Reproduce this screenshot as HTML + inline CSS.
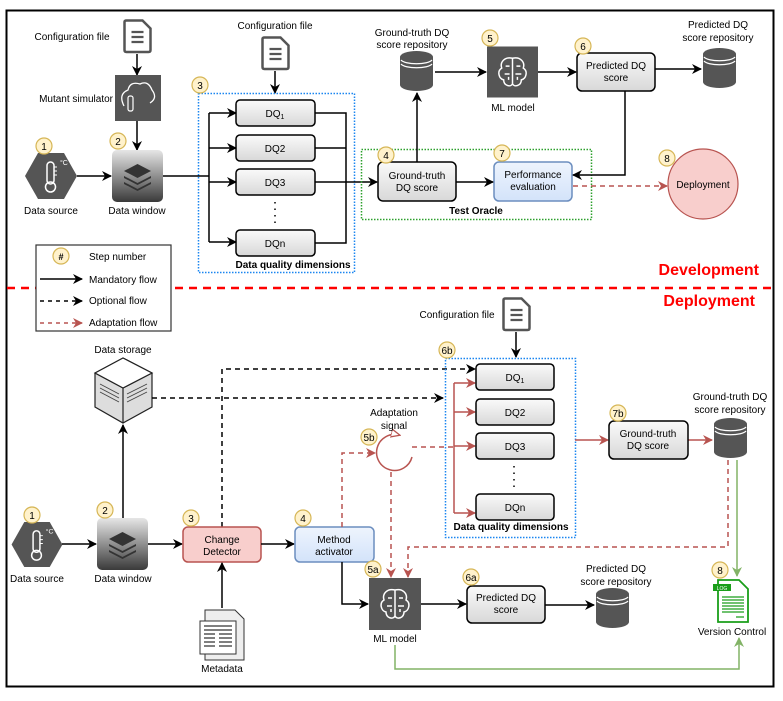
<!DOCTYPE html>
<html><head><meta charset="utf-8"><style>
html,body{margin:0;padding:0;background:#fff;}
svg{display:block;font-family:"Liberation Sans",Arial,sans-serif;}
</style></head><body>
<svg width="783" height="701" viewBox="0 0 783 701" xmlns="http://www.w3.org/2000/svg">
<defs>
<marker id="ab" markerWidth="10" markerHeight="10" refX="9" refY="5" orient="auto" markerUnits="userSpaceOnUse"><path d="M0,0 L10,5 L0,10 L3,5 Z" fill="#000"/></marker>
<marker id="ar" markerWidth="10" markerHeight="10" refX="9" refY="5" orient="auto" markerUnits="userSpaceOnUse"><path d="M0,0 L10,5 L0,10 L3,5 Z" fill="#b85450"/></marker>
<marker id="ag" markerWidth="10" markerHeight="10" refX="9" refY="5" orient="auto" markerUnits="userSpaceOnUse"><path d="M0,0 L10,5 L0,10 L3,5 Z" fill="#82b366"/></marker>
<marker id="ao" markerWidth="10" markerHeight="10" refX="8" refY="5" orient="auto" markerUnits="userSpaceOnUse"><path d="M0,1 L9,5 L0,9 Z" fill="#fff" stroke="#b85450" stroke-width="1.3"/></marker>
<linearGradient id="gw" x1="0" y1="0" x2="0" y2="1"><stop offset="0" stop-color="#e6e6e6"/><stop offset="1" stop-color="#3a3a3a"/></linearGradient>
<linearGradient id="gb" x1="0" y1="0" x2="0" y2="1"><stop offset="0" stop-color="#fafafa"/><stop offset="1" stop-color="#d8d8d8"/></linearGradient>
<linearGradient id="gblue" x1="0" y1="0" x2="0" y2="1"><stop offset="0" stop-color="#eef4fd"/><stop offset="1" stop-color="#d3e3fa"/></linearGradient>
<symbol id="cyl" viewBox="0 0 33 40"><path d="M0,6 A16.5,6 0 0 1 33,6 V34 A16.5,6 0 0 1 0,34 Z" fill="#555"/><path d="M1,9 A16,5 0 0 0 32,9 M1,13 A16,5 0 0 0 32,13" stroke="#fff" stroke-width="1.3" fill="none"/></symbol>
<symbol id="doc" viewBox="0 0 30 35"><path d="M2,3 Q2,1.5 4,1.5 H20 L28,9.5 V31 Q28,33 26,33 H4 Q2,33 2,31 Z" fill="#fff" stroke="#555" stroke-width="2.5"/><path d="M9,13 H21 M9,18 H21 M9,23 H21" stroke="#555" stroke-width="2.2"/></symbol>
<symbol id="ml" viewBox="0 0 52 52"><rect width="52" height="52" fill="#555"/><path d="M26,12 C18,10 13,16 15,22 C10,25 12,33 17,34 C17,40 24,42 26,38 C28,42 35,40 35,34 C40,33 42,25 37,22 C39,16 34,10 26,12 Z M26,12 V38 M19,20 h4 M30,20 h4 M18,28 h5 M29,28 h6 M22,34 v-3 M31,34 v-3" fill="none" stroke="#fff" stroke-width="1.5"/></symbol>
<symbol id="dw" viewBox="0 0 51 52"><rect width="51" height="52" rx="5" fill="url(#gw)"/><path d="M25.5,14 L39,21 L25.5,28 L12,21 Z" fill="#333"/><path d="M12,26 L25.5,33 L39,26 L39,28 L25.5,35 L12,28 Z" fill="#333"/><path d="M12,32 L25.5,39 L39,32 L39,34 L25.5,41 L12,34 Z" fill="#333"/></symbol>
<symbol id="hex" viewBox="0 0 52 46"><path d="M13,0 H39 L52,23 L39,46 H13 L0,23 Z" fill="#555"/><rect x="22" y="9" width="7" height="22" rx="3.5" fill="none" stroke="#fff" stroke-width="1.5"/><circle cx="25.5" cy="34" r="5" fill="none" stroke="#fff" stroke-width="1.5"/><path d="M29,14 h3 M29,18 h3 M29,22 h3" stroke="#fff" stroke-width="1"/><text x="35" y="12" font-size="7" fill="#fff">°C</text></symbol>
</defs>

<rect x="6.5" y="10.5" width="767" height="676" fill="#fff" stroke="#000" stroke-width="2"/>

<g font-size="10" fill="#000">
<!-- ===== TOP ===== -->
<text x="72" y="40" text-anchor="middle">Configuration file</text>
<use href="#doc" x="122" y="19" width="31" height="35"/>
<line x1="137" y1="54" x2="137" y2="75" stroke="#000" stroke-width="1.5" marker-end="url(#ab)"/>
<rect x="115" y="75" width="46" height="46" fill="#555"/>
<path d="M124,106 Q118,94 128,90 Q130,81 140,84 Q148,80 152,90 Q158,98 150,103" fill="none" stroke="#fff" stroke-width="1.3"/>
<rect x="128" y="96" width="5" height="15" rx="2" fill="none" stroke="#fff" stroke-width="1.2"/>
<text x="113" y="102" text-anchor="end">Mutant simulator</text>
<line x1="137" y1="121" x2="137" y2="150" stroke="#000" stroke-width="1.5" marker-end="url(#ab)"/>
<use href="#dw" x="112" y="150" width="51" height="52"/>
<text x="137" y="214" text-anchor="middle">Data window</text>
<use href="#hex" x="25" y="153" width="52" height="46"/>
<text x="51" y="214" text-anchor="middle">Data source</text>
<line x1="77" y1="176" x2="111" y2="176" stroke="#000" stroke-width="1.5" marker-end="url(#ab)"/>

<text x="275" y="29" text-anchor="middle">Configuration file</text>
<use href="#doc" x="260" y="36" width="31" height="35"/>
<line x1="275" y1="71" x2="275" y2="93" stroke="#000" stroke-width="1.5" marker-end="url(#ab)"/>
<rect x="198.5" y="93.5" width="156" height="179" fill="none" stroke="#1a86f0" stroke-width="1.5" stroke-dasharray="1.5,1.5"/>
<path d="M163,176 H209 M209,113 V242 M315,113 H346 V243 H315 M315,148 H346" stroke="#000" stroke-width="1.5" fill="none"/>
<g stroke="#000" stroke-width="1.5" marker-end="url(#ab)">
<line x1="209" y1="113" x2="236" y2="113"/><line x1="209" y1="148" x2="236" y2="148"/><line x1="209" y1="182" x2="236" y2="182"/><line x1="209" y1="242" x2="236" y2="242"/>
<line x1="315" y1="182" x2="377" y2="182"/>
</g>
<g fill="url(#gb)" stroke="#000" stroke-width="1.5">
<rect x="236" y="100" width="79" height="26" rx="4"/><rect x="236" y="135" width="79" height="26" rx="4"/><rect x="236" y="169" width="79" height="26" rx="4"/><rect x="236" y="230" width="79" height="26" rx="4"/>
</g>
<text x="275" y="117" text-anchor="middle">DQ<tspan font-size="7" dy="2">1</tspan></text>
<text x="275" y="152" text-anchor="middle">DQ2</text>
<text x="275" y="186" text-anchor="middle">DQ3</text>
<text x="275" y="247" text-anchor="middle">DQn</text>
<path d="M275,202 V226" stroke="#000" stroke-width="1.5" stroke-dasharray="1.5,5"/>
<text x="293" y="268" text-anchor="middle" font-weight="bold">Data quality dimensions</text>

<rect x="361.5" y="149.5" width="230" height="70" fill="none" stroke="#2ca02c" stroke-width="1.5" stroke-dasharray="1.5,1.5"/>
<rect x="378" y="162" width="78" height="39" rx="5" fill="url(#gb)" stroke="#000" stroke-width="1.5"/>
<text x="417" y="179" text-anchor="middle">Ground-truth</text><text x="417" y="191" text-anchor="middle">DQ score</text>
<rect x="494" y="162" width="78" height="39" rx="5" fill="url(#gblue)" stroke="#6c8ebf" stroke-width="1.5"/>
<text x="533" y="178" text-anchor="middle">Performance</text><text x="533" y="190" text-anchor="middle">evaluation</text>
<text x="476" y="214" text-anchor="middle" font-weight="bold">Test Oracle</text>
<line x1="456" y1="182" x2="493" y2="182" stroke="#000" stroke-width="1.5" marker-end="url(#ab)"/>
<line x1="417" y1="162" x2="417" y2="93" stroke="#000" stroke-width="1.5" marker-end="url(#ab)"/>
<use href="#cyl" x="400" y="51" width="33" height="40"/>
<text x="412" y="36" text-anchor="middle">Ground-truth DQ</text><text x="412" y="48" text-anchor="middle">score repository</text>
<line x1="435" y1="72" x2="486" y2="72" stroke="#000" stroke-width="1.5" marker-end="url(#ab)"/>
<use href="#ml" x="487" y="46" width="51" height="52"/>
<text x="513" y="111" text-anchor="middle">ML model</text>
<line x1="538" y1="72" x2="576" y2="72" stroke="#000" stroke-width="1.5" marker-end="url(#ab)"/>
<rect x="577" y="53" width="78" height="38" rx="5" fill="url(#gb)" stroke="#000" stroke-width="1.5"/>
<text x="616" y="69" text-anchor="middle">Predicted DQ</text><text x="616" y="81" text-anchor="middle">score</text>
<line x1="655" y1="69" x2="701" y2="69" stroke="#000" stroke-width="1.5" marker-end="url(#ab)"/>
<use href="#cyl" x="703" y="48" width="33" height="40"/>
<text x="718" y="28" text-anchor="middle">Predicted DQ</text><text x="718" y="41" text-anchor="middle">score repository</text>
<path d="M625,91 V175 H573" stroke="#000" stroke-width="1.5" fill="none" marker-end="url(#ab)"/>
<line x1="573" y1="186" x2="667" y2="186" stroke="#b85450" stroke-width="1.5" stroke-dasharray="5,4" marker-end="url(#ar)"/>
<circle cx="703" cy="184" r="35" fill="#f8cecc" stroke="#b85450" stroke-width="1.2"/>
<text x="703" y="188" text-anchor="middle">Deployment</text>

<text x="759" y="275" text-anchor="end" font-size="16" font-weight="bold" fill="#f00">Development</text>
<line x1="7" y1="288" x2="773" y2="288" stroke="#f00" stroke-width="2.5" stroke-dasharray="8,6"/>
<text x="755" y="306" text-anchor="end" font-size="16" font-weight="bold" fill="#f00">Deployment</text>

<!-- legend -->
<rect x="36" y="245" width="135" height="86" fill="#fff" stroke="#333" stroke-width="1.2"/>
<text x="89" y="260">Step number</text>
<line x1="40" y1="279" x2="82" y2="279" stroke="#000" stroke-width="1.5" marker-end="url(#ab)"/>
<text x="89" y="283">Mandatory flow</text>
<line x1="40" y1="301" x2="82" y2="301" stroke="#000" stroke-width="1.5" stroke-dasharray="4,4" marker-end="url(#ab)"/>
<text x="89" y="304">Optional flow</text>
<line x1="40" y1="323" x2="82" y2="323" stroke="#b85450" stroke-width="1.5" stroke-dasharray="4,4" marker-end="url(#ar)"/>
<text x="89" y="326">Adaptation flow</text>

<!-- ===== BOTTOM ===== -->
<use href="#hex" x="11" y="522" width="52" height="45"/>
<text x="37" y="582" text-anchor="middle">Data source</text>
<line x1="62" y1="544" x2="96" y2="544" stroke="#000" stroke-width="1.5" marker-end="url(#ab)"/>
<use href="#dw" x="97" y="518" width="51" height="52"/>
<text x="123" y="582" text-anchor="middle">Data window</text>
<line x1="123" y1="518" x2="123" y2="425" stroke="#000" stroke-width="1.5" marker-end="url(#ab)"/>
<path d="M95,373 L123,358 L152,373 L152,407 L123,423 L95,407 Z" fill="#ddd" stroke="#222" stroke-width="1.2"/>
<path d="M95,373 L123,388 L152,373 M123,388 V423" stroke="#222" stroke-width="1.2" fill="none"/>
<path d="M95,373 L123,358 L152,373 L123,388 Z" fill="#fff" stroke="#222" stroke-width="1.2"/>
<path d="M100,384 L119,394 M100,388 L119,398 M100,392 L119,402 M127,394 L147,384 M127,398 L147,388 M127,402 L147,392" stroke="#444" stroke-width="0.9"/>
<text x="123" y="353" text-anchor="middle">Data storage</text>
<line x1="152" y1="398" x2="443" y2="398" stroke="#000" stroke-width="1.5" stroke-dasharray="5,4" marker-end="url(#ab)"/>
<path d="M222,527 V369 H475" stroke="#000" stroke-width="1.5" fill="none" stroke-dasharray="5,4" marker-end="url(#ab)"/>
<line x1="148" y1="544" x2="182" y2="544" stroke="#000" stroke-width="1.5" marker-end="url(#ab)"/>
<rect x="183" y="527" width="78" height="35" rx="5" fill="#f8cecc" stroke="#b85450" stroke-width="1.5"/>
<text x="222" y="543" text-anchor="middle">Change</text><text x="222" y="555" text-anchor="middle">Detector</text>
<line x1="261" y1="544" x2="294" y2="544" stroke="#000" stroke-width="1.5" marker-end="url(#ab)"/>
<rect x="295" y="527" width="79" height="35" rx="5" fill="url(#gblue)" stroke="#6c8ebf" stroke-width="1.5"/>
<text x="334" y="543" text-anchor="middle">Method</text><text x="334" y="555" text-anchor="middle">activator</text>
<line x1="222" y1="608" x2="222" y2="563" stroke="#000" stroke-width="1.5" marker-end="url(#ab)"/>
<path d="M205,610 H235 L244,619 V660 H205 Z" fill="#eee" stroke="#333" stroke-width="1"/>
<rect x="200" y="621" width="36" height="33" fill="#fff" stroke="#333" stroke-width="1"/>
<path d="M204,626 H232 M204,630 H232 M204,634 H215 M219,634 H232 M204,638 H215 M219,638 H232 M204,642 H215 M219,642 H232 M204,646 H215 M219,646 H232" stroke="#333" stroke-width="1.2"/>
<text x="222" y="672" text-anchor="middle">Metadata</text>
<path d="M342,562 V604 H368" stroke="#000" stroke-width="1.5" fill="none" marker-end="url(#ab)"/>
<use href="#ml" x="369" y="578" width="52" height="52"/>
<text x="395" y="642" text-anchor="middle">ML model</text>

<!-- adaptation -->
<path d="M342,527 V453 H375" stroke="#b85450" stroke-width="1.5" fill="none" stroke-dasharray="5,4" marker-end="url(#ar)"/>
<path d="M412,457 A18,18 0 1 1 399,435" stroke="#b85450" stroke-width="1.5" fill="none" marker-end="url(#ao)"/>
<text x="394" y="416" text-anchor="middle">Adaptation</text><text x="394" y="429" text-anchor="middle">signal</text>
<line x1="412" y1="447" x2="454" y2="447" stroke="#b85450" stroke-width="1.5" stroke-dasharray="5,4"/>
<line x1="391" y1="472" x2="391" y2="577" stroke="#b85450" stroke-width="1.5" stroke-dasharray="5,4" marker-end="url(#ar)"/>
<path d="M728,460 V547 H408 V577" stroke="#b85450" stroke-width="1.5" fill="none" stroke-dasharray="5,4" marker-end="url(#ar)"/>

<text x="457" y="318" text-anchor="middle">Configuration file</text>
<use href="#doc" x="501" y="297" width="31" height="35"/>
<line x1="516" y1="332" x2="516" y2="357" stroke="#000" stroke-width="1.5" marker-end="url(#ab)"/>
<rect x="445.5" y="358.5" width="130" height="179" fill="none" stroke="#1a86f0" stroke-width="1.5" stroke-dasharray="1.5,1.5"/>
<path d="M454,383 V513" stroke="#b85450" stroke-width="1.5"/>
<g stroke="#b85450" stroke-width="1.5" marker-end="url(#ar)">
<line x1="454" y1="383" x2="475" y2="383"/><line x1="454" y1="412" x2="475" y2="412"/><line x1="454" y1="446" x2="475" y2="446"/><line x1="454" y1="513" x2="475" y2="513"/>
<line x1="575" y1="440" x2="608" y2="440"/><line x1="688" y1="440" x2="712" y2="440"/>
</g>
<g fill="url(#gb)" stroke="#000" stroke-width="1.5">
<rect x="476" y="364" width="78" height="26" rx="4"/><rect x="476" y="399" width="78" height="26" rx="4"/><rect x="476" y="433" width="78" height="26" rx="4"/><rect x="476" y="494" width="78" height="26" rx="4"/>
</g>
<text x="515" y="381" text-anchor="middle">DQ<tspan font-size="7" dy="2">1</tspan></text>
<text x="515" y="416" text-anchor="middle">DQ2</text>
<text x="515" y="450" text-anchor="middle">DQ3</text>
<text x="515" y="511" text-anchor="middle">DQn</text>
<path d="M514,466 V490" stroke="#000" stroke-width="1.5" stroke-dasharray="1.5,5"/>
<text x="511" y="530" text-anchor="middle" font-weight="bold">Data quality dimensions</text>

<rect x="609" y="421" width="79" height="38" rx="5" fill="url(#gb)" stroke="#000" stroke-width="1.5"/>
<text x="648" y="437" text-anchor="middle">Ground-truth</text><text x="648" y="449" text-anchor="middle">DQ score</text>
<use href="#cyl" x="714" y="418" width="33" height="40"/>
<text x="730" y="400" text-anchor="middle">Ground-truth DQ</text><text x="730" y="413" text-anchor="middle">score repository</text>
<line x1="737" y1="460" x2="737" y2="576" stroke="#82b366" stroke-width="1.5" marker-end="url(#ag)"/>
<path d="M718,580 H739 L748,589 V622 H718 Z" fill="#fff" stroke="#1a9e1a" stroke-width="1.8"/>
<rect x="713" y="584" width="18" height="7" fill="#1a9e1a"/>
<text x="722" y="590" font-size="5" fill="#fff" text-anchor="middle">LOG</text>
<path d="M722,597 H744 M722,600 H744 M722,603 H744 M722,606 H744 M722,609 H744 M722,612 H744 M736,617 H744" stroke="#1a9e1a" stroke-width="1.2"/>
<text x="732" y="635" text-anchor="middle">Version Control</text>
<path d="M395,645 V669 H739 V638" stroke="#82b366" stroke-width="1.5" fill="none" marker-end="url(#ag)"/>

<line x1="421" y1="604" x2="466" y2="604" stroke="#000" stroke-width="1.5" marker-end="url(#ab)"/>
<rect x="467" y="586" width="78" height="37" rx="5" fill="url(#gb)" stroke="#000" stroke-width="1.5"/>
<text x="506" y="601" text-anchor="middle">Predicted DQ</text><text x="506" y="613" text-anchor="middle">score</text>
<line x1="545" y1="605" x2="594" y2="605" stroke="#000" stroke-width="1.5" marker-end="url(#ab)"/>
<use href="#cyl" x="596" y="588" width="33" height="40"/>
<text x="616" y="572" text-anchor="middle">Predicted DQ</text><text x="616" y="585" text-anchor="middle">score repository</text>
</g>

<!-- badges -->
<g font-size="10" text-anchor="middle">
<g fill="#fff2cc" stroke="#d6b656" stroke-width="1.2">
<circle cx="44" cy="146" r="8"/><circle cx="118" cy="141" r="8"/><circle cx="200" cy="85" r="8"/><circle cx="386" cy="155" r="8"/><circle cx="490" cy="38" r="8"/><circle cx="583" cy="46" r="8"/><circle cx="502" cy="153" r="8"/><circle cx="667" cy="158" r="8"/><circle cx="61" cy="256" r="8"/>
<circle cx="32" cy="515" r="8"/><circle cx="105" cy="510" r="8"/><circle cx="191" cy="518" r="8"/><circle cx="303" cy="518" r="8"/><circle cx="373" cy="569" r="8"/><circle cx="369" cy="437" r="8"/><circle cx="447" cy="350" r="8"/><circle cx="618" cy="413" r="8"/><circle cx="471" cy="577" r="8"/><circle cx="720" cy="570" r="8"/>
</g>
<text x="44" y="150">1</text><text x="118" y="145">2</text><text x="200" y="89">3</text><text x="386" y="159">4</text><text x="490" y="42">5</text><text x="583" y="50">6</text><text x="502" y="157">7</text><text x="667" y="162">8</text><text x="61" y="260" font-weight="bold" font-size="9">#</text>
<text x="32" y="519">1</text><text x="105" y="514">2</text><text x="191" y="522">3</text><text x="303" y="522">4</text><text x="373" y="573">5a</text><text x="369" y="441">5b</text><text x="447" y="354">6b</text><text x="618" y="417">7b</text><text x="471" y="581">6a</text><text x="720" y="574">8</text>
</g>
</svg>
</body></html>
